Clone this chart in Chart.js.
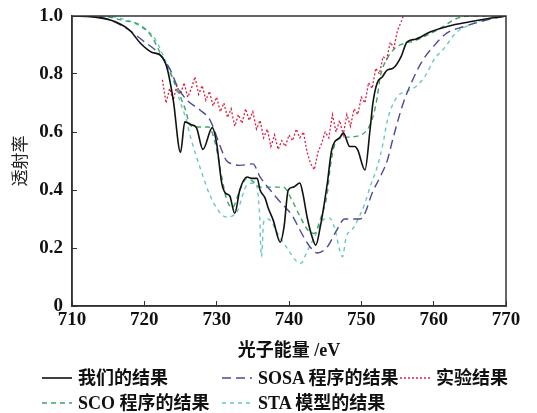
<!DOCTYPE html>
<html><head><meta charset="utf-8">
<script src="https://cdn.jsdelivr.net/npm/chart.js@4"></script>
<style>
html,body{margin:0;padding:0;background:#fff;}
#wrap{position:relative;width:537px;height:413px;overflow:hidden;}
canvas{position:absolute;left:0;top:0;}
.lg{position:absolute;font:bold 18px "Liberation Serif","Noto Sans CJK SC",serif;color:#111;white-space:nowrap;line-height:22px;height:22px;}
.sw{position:absolute;}
</style></head><body>
<div id="wrap"><canvas id="c" width="537" height="413"></canvas><div id="legend"></div></div>
<script>
// ---- data ----
const seriesNames = ['我们的结果','SOSA 程序的结果','实验结果','SCO 程序的结果','STA 模型的结果'];
const xTicks = [710,720,730,740,750,760,770];
const yTicks = [0,0.2,0.4,0.6,0.8,1.0];

const ourE = [710,713,716,718,719.5,721,722.2,723.1,724,725,725.6,726.5,727.2,728.1,729.4,730,730.7,731.2,731.8,732.5,733.2,734.2,734.9,735.6,736,736.7,737.1,737.8,738.8,739.3,739.9,740.6,741.5,741.9,742.5,743.2,743.7,744.3,745.3,745.9,747.1,747.5,748.4,749.1,749.5,750.5,751.2,751.6,752.2,752.9,753.6,754.4,755.5,756.3,757.5,759.5,762,765,768,770];
const ourT = [1.0,0.997,0.98,0.95,0.905,0.875,0.865,0.824,0.71,0.53,0.635,0.625,0.615,0.54,0.615,0.56,0.424,0.39,0.38,0.32,0.40,0.445,0.44,0.44,0.40,0.372,0.34,0.297,0.22,0.27,0.40,0.41,0.424,0.39,0.307,0.238,0.21,0.27,0.424,0.538,0.583,0.597,0.55,0.55,0.538,0.469,0.607,0.70,0.77,0.79,0.814,0.82,0.86,0.91,0.92,0.945,0.965,0.98,0.993,1.0];

const sosaE = [710,714,717.7,719.7,722.2,723.6,724.6,725.9,727.7,729.1,730.5,731.3,732.1,733.2,735,736,737.4,738.4,739.5,740.5,741.5,742.9,743.9,745.3,746.6,747.7,749.8,750.5,751.5,752.6,753.6,754.4,755.8,757.1,758.5,759.9,761.8,764,767.3,770];
const sosaT = [1.0,0.995,0.955,0.917,0.866,0.814,0.755,0.71,0.676,0.64,0.55,0.503,0.49,0.485,0.49,0.445,0.40,0.37,0.34,0.31,0.262,0.204,0.183,0.204,0.262,0.30,0.30,0.32,0.39,0.445,0.503,0.58,0.70,0.78,0.848,0.893,0.941,0.962,0.986,1.0];

const expE = [722.5,723,723.5,724,724.5,725,725.5,726,726.5,727,727.5,728,728.5,729,729.5,730,730.5,731,731.5,732,732.5,733,733.5,734,734.5,735,735.5,736,736.5,737,737.5,738,738.5,739,739.5,740,740.5,741,741.5,742,742.5,743,743.5,744,744.5,745,745.5,746,746.5,747,747.5,748,748.5,749,749.5,750,750.5,751,751.5,752,752.5,753,753.5,754,754.5,755,755.5,755.8];
const expT = [0.78,0.70,0.75,0.71,0.76,0.73,0.77,0.72,0.75,0.79,0.73,0.76,0.71,0.74,0.69,0.72,0.67,0.70,0.65,0.68,0.62,0.66,0.63,0.68,0.64,0.67,0.61,0.64,0.58,0.61,0.55,0.59,0.54,0.57,0.55,0.59,0.57,0.61,0.58,0.60,0.53,0.49,0.47,0.53,0.56,0.60,0.58,0.66,0.60,0.64,0.59,0.66,0.62,0.68,0.66,0.72,0.70,0.77,0.75,0.82,0.80,0.86,0.85,0.91,0.89,0.95,0.98,1.0];

const scoE = [710,714,717,719.3,721,722.2,723.6,725,725.7,726.3,727.3,728.9,729.8,730.7,731.4,732.2,733.2,734.2,735,736,737.3,739.2,740.5,741.5,742.6,743.5,744.3,745.3,745.7,746.6,748.5,750.8,751.6,752.2,752.6,753.5,754.7,756.3,757.1,760.5,763.6,766,770];
const scoT = [1.0,1.0,0.985,0.97,0.93,0.872,0.803,0.72,0.676,0.624,0.617,0.617,0.562,0.445,0.366,0.34,0.40,0.44,0.43,0.41,0.41,0.41,0.36,0.31,0.262,0.25,0.297,0.39,0.48,0.572,0.583,0.607,0.652,0.72,0.79,0.85,0.89,0.908,0.912,0.952,0.995,1.0,1.0];

const staE = [710,714,717.7,719.7,721.5,723,724,725,725.7,726.5,727.8,729.1,730.2,731.3,732.1,732.8,734.2,735.4,735.9,736.2,736.5,737.1,738.7,740,741,741.7,742.4,743.8,744.7,745.6,746.3,747,747.4,747.9,748.7,749.5,750.5,751.2,752.2,753,753.6,754.9,756.3,757.7,759,760,761.5,763,765,767.5,770];
const staT = [1.0,1.0,0.985,0.96,0.92,0.84,0.78,0.70,0.65,0.572,0.47,0.38,0.33,0.307,0.31,0.324,0.417,0.424,0.33,0.17,0.29,0.30,0.238,0.19,0.155,0.148,0.183,0.252,0.297,0.303,0.27,0.193,0.17,0.238,0.262,0.297,0.355,0.41,0.48,0.56,0.64,0.72,0.74,0.76,0.80,0.848,0.89,0.94,0.97,0.99,1.0];

// ---- styles ----
const colors = ['#111111','#4b4a98','#d9203f','#3fa362','#66c9c2'];
const dashes = [[],[9,5],[2,2],[5,4],[4,4]];
const widths = [1.6,1.4,1.3,1.4,1.4];
const smooth = [true,true,false,true,true];

function zip(e,t){return e.map((v,i)=>({x:v,y:t[i]}));}
const allE=[ourE,sosaE,expE,scoE,staE], allT=[ourT,sosaT,expT,scoT,staT];

const datasets = seriesNames.map((n,i)=>({
  label:n, data:zip(allE[i],allT[i]), showLine:true, pointRadius:0,
  borderColor:colors[i], borderWidth:widths[i], borderDash:dashes[i],
  cubicInterpolationMode: smooth[i]?'monotone':'default', tension: smooth[i]?0.4:0, fill:false
}));

const frame = {id:'frame', afterDatasetsDraw(c){
  const a=c.chartArea, g=c.ctx; g.save(); g.strokeStyle='#333'; g.lineWidth=1.5;
  g.strokeRect(a.left,a.top,a.right-a.left,a.bottom-a.top); g.restore();
}};

const tickFont = {family:'"Liberation Serif", serif', size:19, weight:'bold'};
const titleFont = {family:'"Liberation Serif","Noto Sans CJK SC", serif', size:18, weight:'bold'};
const yTitleFont = {family:'"Noto Sans CJK SC", serif', size:17, weight:'normal'};

new Chart(document.getElementById('c'),{
  type:'scatter',
  data:{datasets},
  options:{
    responsive:false, animation:false,
    layout:{padding:{left:0,right:31,top:16,bottom:51}},
    plugins:{legend:{display:false},tooltip:{enabled:false}},
    scales:{
      x:{type:'linear',min:710,max:770,
        afterBuildTicks(s){s.ticks=xTicks.map(v=>({value:v}));},
        ticks:{padding:8,color:'#111',font:tickFont,maxRotation:0,autoSkip:false},
        grid:{display:true,drawOnChartArea:false,drawTicks:true,tickLength:-5,color:'#333',lineWidth:1},
        border:{color:'#333',width:1.5},
        title:{display:true,text:'光子能量 /eV',color:'#111',font:titleFont,padding:0},
        afterFit(s){s.height=56;s.paddingLeft=0;s.paddingRight=0;}
      },
      y:{type:'linear',min:0,max:1,
        afterBuildTicks(s){s.ticks=yTicks.map(v=>({value:v}));},
        ticks:{padding:14,color:'#111',font:tickFont,autoSkip:false,
          callback:v=>v===0?'0':v.toFixed(1)},
        grid:{display:true,drawOnChartArea:false,drawTicks:true,tickLength:-5,color:'#333',lineWidth:1},
        border:{color:'#333',width:1.5},
        title:{display:true,text:'透射率',color:'#222',font:yTitleFont,padding:{top:9,bottom:0}},
        afterFit(s){s.width=72;s.paddingTop=0;s.paddingBottom=0;}
      }
    }
  },
  plugins:[frame]
});

// ---- HTML legend ----
const legPos = [[42,378],[222,378],[400,378],[42,403],[222,403]];
const leg = document.getElementById('legend');
seriesNames.forEach((n,i)=>{
  const [x,y]=legPos[i];
  const sw=document.createElementNS('http://www.w3.org/2000/svg','svg');
  sw.setAttribute('class','sw'); sw.setAttribute('width','30'); sw.setAttribute('height','6');
  sw.style.left=x+'px'; sw.style.top=(y-3)+'px';
  const ln=document.createElementNS('http://www.w3.org/2000/svg','line');
  ln.setAttribute('x1','0');ln.setAttribute('x2','30');ln.setAttribute('y1','3');ln.setAttribute('y2','3');
  ln.setAttribute('stroke',colors[i]); ln.setAttribute('stroke-width',widths[i]);
  if(dashes[i].length) ln.setAttribute('stroke-dasharray',dashes[i].join(' '));
  sw.appendChild(ln); leg.appendChild(sw);
  const t=document.createElement('div'); t.className='lg'; t.textContent=n;
  t.style.left=(x+36)+'px'; t.style.top=(y-11)+'px'; leg.appendChild(t);
});
</script>
</body></html>
